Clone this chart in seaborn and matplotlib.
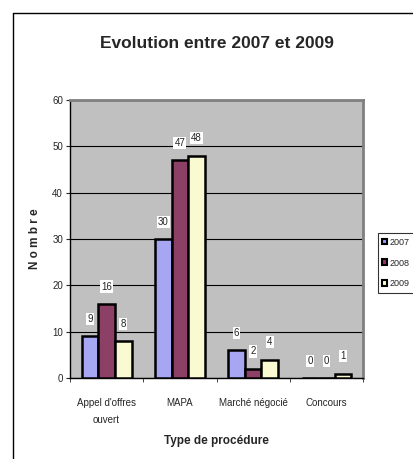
import pandas as pd
import seaborn as sns
import matplotlib.pyplot as plt
from matplotlib.lines import Line2D
from matplotlib.patches import Patch

categories = ["Appel d'offres\nouvert", "MAPA", "Marché négocié", "Concours"]
years = ["2007", "2008", "2009"]
v2007 = [9, 30, 6, 0]
v2008 = [16, 47, 2, 0]
v2009 = [8, 48, 4, 1]

colors = ["#9999FF", "#993366", "#FFFFCC"]

df = pd.DataFrame({
    "cat": categories * 3,
    "year": [y for y in years for _ in categories],
    "val": v2007 + v2008 + v2009,
})

sns.set_style("white")
plt.rcParams["font.family"] = ["Liberation Sans", "DejaVu Sans"]

fig = plt.figure(figsize=(4.14, 4.59), dpi=100)
ax = fig.add_axes([0.169, 0.176, 0.708, 0.606])
ax.set_facecolor("#C0C0C0")

sns.barplot(data=df, x="cat", y="val", hue="year", palette=colors,
            width=0.68, edgecolor="black", linewidth=1.8, ax=ax,
            legend=False, zorder=3)

ax.set_ylim(0, 60)
ax.set_xlim(-0.5, 3.5)
ax.set_yticks(range(0, 61, 10))
ax.yaxis.grid(True, color="black", linewidth=0.8, zorder=0)
ax.set_axisbelow(True)

for cont in ax.containers:
    ax.bar_label(cont, padding=9, fontsize=7,
                 bbox=dict(facecolor="white", edgecolor="none", pad=0.8))

ax.tick_params(axis="y", labelsize=7, length=3, direction="out", left=True, pad=2)
ax.set_xticks([0, 1, 2, 3])
ax.set_xticklabels(categories, fontsize=7, linespacing=1.9)
ax.tick_params(axis="x", length=0, pad=14)
ax.set_xticks([-0.5, 0.5, 1.5, 2.5, 3.5], minor=True)
ax.tick_params(axis="x", which="minor", length=3, direction="out", bottom=True)

for s in ["left", "bottom"]:
    ax.spines[s].set_color("black")
    ax.spines[s].set_linewidth(1)
for s in ["top", "right"]:
    ax.spines[s].set_color("#808080")
    ax.spines[s].set_linewidth(2)

ax.set_xlabel("Type de procédure", fontsize=8.5, fontweight="bold", labelpad=7)
ax.set_ylabel("N o m b r e", fontsize=8.5, fontweight="bold", labelpad=8)

fig.text(0.523, 0.905, "Evolution entre 2007 et 2009", ha="center", va="center",
         fontsize=12.5, fontweight="bold")

handles = [Patch(facecolor=c, edgecolor="black", linewidth=1.5) for c in colors]
leg = fig.legend(handles, years, loc="center left", bbox_to_anchor=(0.912, 0.427),
                 fontsize=6.5, frameon=True, fancybox=False, edgecolor="black",
                 handlelength=0.6, handleheight=0.6, handletextpad=0.2,
                 labelspacing=1.3, borderpad=0.5, borderaxespad=0)
leg.get_frame().set_linewidth(0.8)

fig.add_artist(Line2D([0.031, 0.031], [0.0, 0.972], color="black", linewidth=1,
                      transform=fig.transFigure))
fig.add_artist(Line2D([0.031, 1.0], [0.972, 0.972], color="black", linewidth=1,
                      transform=fig.transFigure))

fig.savefig("out.png", dpi=100)
